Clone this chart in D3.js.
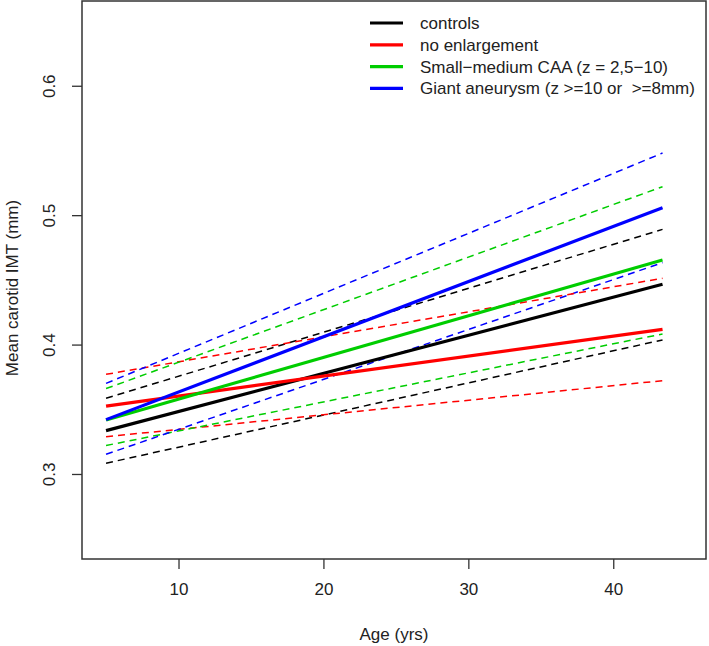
<!DOCTYPE html>
<html><head><meta charset="utf-8">
<script src="https://cdn.jsdelivr.net/npm/d3@7"></script>
<style>body{margin:0;background:#fff}svg{display:block}text{font-family:"Liberation Sans",Arial,sans-serif;fill:#222;white-space:pre}</style>
</head><body>
<div id="chart"></div>
<script>
const ages = [5, 43.4];
const seriesNames = ["controls", "no enlargement", "Small\u2212medium CAA (z = 2,5\u221210)", "Giant aneurysm (z >=10 or  >=8mm)"];
const seriesColors = ["#000000", "#ff0000", "#00cd00", "#0000ff"];
const fitValues = [[0.3335, 0.4466], [0.3525, 0.4118], [0.3417, 0.4654], [0.342, 0.5058]];
const lowerValues = [[0.3083, 0.4036], [0.3288, 0.3721], [0.322, 0.4082], [0.3152, 0.4633]];
const upperValues = [[0.3585, 0.489], [0.377, 0.4512], [0.366, 0.522], [0.370, 0.548]];
const xTicks = [10, 20, 30, 40];
const yTicks = [0.3, 0.4, 0.5, 0.6];

const W = 709, H = 646;
const box = {left: 82, right: 706, top: 1, bottom: 559};
const FS = 17;
const svg = d3.select("#chart").append("svg").attr("width", W).attr("height", H);
const x = d3.scaleLinear().domain([3.34, 46.4]).range([box.left, box.right]);
const y = d3.scaleLinear().domain([0.2343, 0.6655]).range([box.bottom, box.top]);

const line = d3.line().x(d => x(d[0])).y(d => y(d[1]));
const pts = vals => ages.map((a, i) => [a, vals[i]]);

[lowerValues, upperValues].forEach(arr => {
  arr.forEach((vals, i) => {
    svg.append("path").attr("d", line(pts(vals))).attr("fill", "none")
      .attr("stroke", seriesColors[i]).attr("stroke-width", 1.5).attr("stroke-dasharray", "7,5");
  });
});
fitValues.forEach((vals, i) => {
  svg.append("path").attr("d", line(pts(vals))).attr("fill", "none")
    .attr("stroke", seriesColors[i]).attr("stroke-width", 3.2);
});

svg.append("rect").attr("x", box.left).attr("y", box.top)
  .attr("width", box.right - box.left).attr("height", box.bottom - box.top)
  .attr("fill", "none").attr("stroke", "#333").attr("stroke-width", 1.5);

// x axis
const xa = svg.append("g").attr("transform", `translate(0,${box.bottom})`)
  .call(d3.axisBottom(x).tickValues(xTicks).tickSize(10).tickPadding(14).tickFormat(d3.format("d")));
xa.select(".domain").remove();
xa.selectAll("line").attr("stroke", "#333").attr("stroke-width", 1.3);
xa.selectAll("text").attr("font-size", FS).attr("fill", "#222");

// y axis
const ya = svg.append("g").attr("transform", `translate(${box.left},0)`)
  .call(d3.axisLeft(y).tickValues(yTicks).tickSize(10).tickFormat(d3.format(".1f")));
ya.select(".domain").remove();
ya.selectAll(".tick line").attr("stroke", "#333").attr("stroke-width", 1.3);
ya.selectAll(".tick text").attr("font-size", FS).attr("fill", "#222")
  .attr("x", 0).attr("y", 0).attr("dy", "0.35em").attr("text-anchor", "middle")
  .attr("transform", "translate(-33,0) rotate(-90)");

// axis titles
svg.append("text").attr("x", (box.left + box.right) / 2).attr("y", 640)
  .attr("text-anchor", "middle").attr("font-size", FS).text("Age (yrs)");
svg.append("text").attr("transform", `translate(18,${(box.top + box.bottom) / 2 + 8}) rotate(-90)`)
  .attr("text-anchor", "middle").attr("font-size", FS).text("Mean carotid IMT (mm)");

// legend
seriesNames.forEach((name, i) => {
  const ly = 23 + i * 21.8;
  svg.append("line").attr("x1", 370).attr("x2", 403).attr("y1", ly).attr("y2", ly)
    .attr("stroke", seriesColors[i]).attr("stroke-width", 3.2);
  svg.append("text").attr("x", 420).attr("y", ly).attr("dy", "0.35em")
    .attr("font-size", FS).text(name);
});
</script>
</body></html>
